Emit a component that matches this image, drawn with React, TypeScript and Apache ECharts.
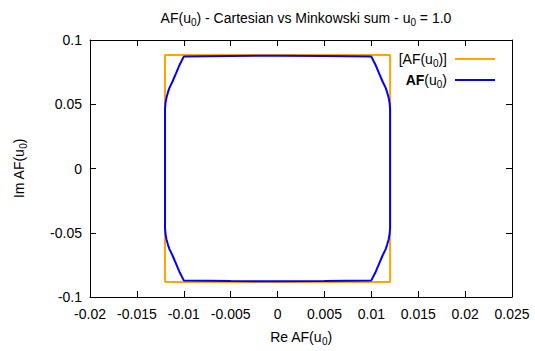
import React, { useEffect, useRef } from "react";
import * as echarts from "echarts";

// Cartesian bounding box [AF(u0)] (closed loop)
const boxX = [-0.012, -0.012, 0.012, 0.012, -0.012];
const boxY = [-0.0883, 0.0883, 0.0883, -0.0883, -0.0883];

// Minkowski sum AF(u0) (closed loop, counter-clockwise from (+Re, 0))
const afX = [
  0.012, 0.012, 0.01195, 0.01185, 0.0117, 0.01153, 0.0112, 0.01083, 0.01047, 0.01,
  0.005, 0, -0.005,
  -0.01, -0.01047, -0.01083, -0.0112, -0.01153, -0.0117, -0.01185, -0.01195, -0.012,
  -0.012,
  -0.012, -0.01195, -0.01185, -0.0117, -0.01153, -0.0112, -0.01083, -0.01047, -0.01,
  -0.005, 0, 0.005,
  0.01, 0.01047, 0.01083, 0.0112, 0.01153, 0.0117, 0.01185, 0.01195, 0.012, 0.012,
];
const afY = [
  0, 0.046, 0.051, 0.055, 0.059, 0.0627, 0.0677, 0.074, 0.0803, 0.0871,
  0.0876, 0.0878, 0.0876,
  0.0871, 0.0803, 0.074, 0.0677, 0.0627, 0.059, 0.055, 0.051, 0.046,
  0,
  -0.046, -0.051, -0.055, -0.059, -0.0627, -0.0677, -0.074, -0.0803, -0.0871,
  -0.0876, -0.0878, -0.0876,
  -0.0871, -0.0803, -0.074, -0.0677, -0.0627, -0.059, -0.055, -0.051, -0.046, 0,
];

const xMin = -0.02, xMax = 0.025, xStep = 0.005;
const yMin = -0.1, yMax = 0.1, yStep = 0.05;

const FONT = "Liberation Sans";
const FS = 14;

const fmt = (v: number) => String(parseFloat(v.toPrecision(6)));

const sub = { fontSize: 10, fontFamily: FONT, color: "#000", padding: [8, 0, 0, 0] };
const norm = { fontSize: FS, fontFamily: FONT, color: "#000" };
const bold = { fontSize: FS, fontFamily: FONT, color: "#000", fontWeight: "bold" };

export default function App() {
  const ref = useRef<HTMLDivElement>(null);
  useEffect(() => {
    const chart = echarts.init(ref.current!, null, { renderer: "svg" });
    const zip = (xs: number[], ys: number[]) => xs.map((x, i) => [x, ys[i]]);
    const axisCommon = {
      axisLine: { show: true, onZero: false, lineStyle: { color: "#000", width: 1 } },
      axisTick: { show: true, inside: true, length: 6, lineStyle: { color: "#000" } },
      splitLine: { show: false },
    };
    chart.setOption({
      animation: false,
      backgroundColor: "#fff",
      title: {
        text: "AF(u{s|0}) - Cartesian vs Minkowski sum - u{s|0} = 1.0",
        left: 301,
        textAlign: "center",
        top: 4,
        textStyle: { ...norm, fontWeight: "normal", rich: { s: sub } },
      },
      grid: { left: 90, right: 23, top: 40, bottom: 47, containLabel: false },
      legend: {
        orient: "vertical",
        right: 35,
        top: 47,
        align: "right",
        icon: "rect",
        itemWidth: 40,
        itemHeight: 2,
        itemGap: 5,
        data: ["box", "af"],
        formatter: (name: string) =>
          name === "box" ? "[AF(u{s|0})]" : "{b|AF}(u{s|0})",
        textStyle: { ...norm, padding: [0, 3, 0, 0], rich: { s: sub, b: bold } },
      },
      xAxis: [
        {
          type: "value", min: xMin, max: xMax, interval: xStep,
          ...axisCommon,
          axisLabel: { formatter: fmt, color: "#000", fontSize: FS, fontFamily: FONT, margin: 10 },
          name: "Re AF(u{s|0})",
          nameLocation: "middle",
          nameGap: 31,
          nameTextStyle: { ...norm, rich: { s: sub } },
        },
        {
          type: "value", min: xMin, max: xMax, interval: xStep, position: "top",
          ...axisCommon,
          axisLabel: { show: false },
        },
      ],
      yAxis: [
        {
          type: "value", min: yMin, max: yMax, interval: yStep,
          ...axisCommon,
          axisLabel: { formatter: fmt, color: "#000", fontSize: FS, fontFamily: FONT, margin: 8 },
          name: "Im AF(u{s|0})",
          nameLocation: "middle",
          nameGap: 62,
          nameTextStyle: { ...norm, rich: { s: sub } },
        },
        {
          type: "value", min: yMin, max: yMax, interval: yStep, position: "right",
          ...axisCommon,
          axisLabel: { show: false },
        },
      ],
      series: [
        {
          name: "box",
          type: "line",
          data: zip(boxX, boxY),
          symbol: "none",
          lineStyle: { color: "#FFA500", width: 2 },
          itemStyle: { color: "#FFA500" },
        },
        {
          name: "af",
          type: "line",
          data: zip(afX, afY),
          symbol: "none",
          lineStyle: { color: "#0000FF", width: 2 },
          itemStyle: { color: "#0000FF" },
        },
      ],
    });
    return () => chart.dispose();
  }, []);
  return (
    <div
      ref={ref}
      style={{ position: "fixed", left: 0, top: 0, width: 535, height: 351, background: "#fff" }}
    />
  );
}
